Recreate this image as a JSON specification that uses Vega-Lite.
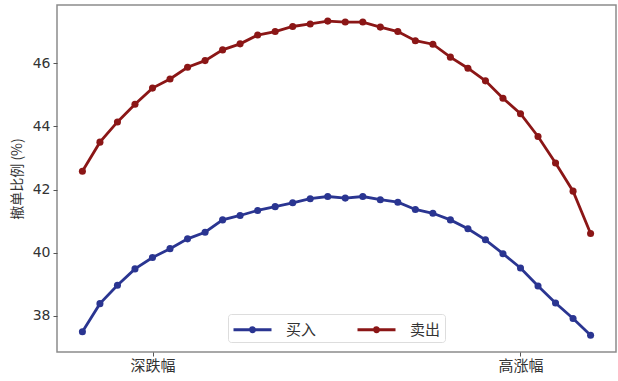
{
  "$schema": "https://vega.github.io/schema/vega-lite/v6.json",
  "width": 559,
  "height": 347,
  "autosize": "none",
  "padding": {"left": 57, "top": 5, "right": 2, "bottom": 29},
  "background": "white",
  "config": {
    "view": {"stroke": "#8c8c8c", "strokeWidth": 1.5},
    "axis": {"grid": false, "domain": false, "tickColor": "#555", "labelColor": "#333", "titleColor": "#333"}
  },
  "data": {
    "values": [
      {"i": 0, "s": "买入", "v": 37.50}, {"i": 1, "s": "买入", "v": 38.39}, {"i": 2, "s": "买入", "v": 38.97},
      {"i": 3, "s": "买入", "v": 39.49}, {"i": 4, "s": "买入", "v": 39.85}, {"i": 5, "s": "买入", "v": 40.13},
      {"i": 6, "s": "买入", "v": 40.44}, {"i": 7, "s": "买入", "v": 40.65}, {"i": 8, "s": "买入", "v": 41.04},
      {"i": 9, "s": "买入", "v": 41.18}, {"i": 10, "s": "买入", "v": 41.34}, {"i": 11, "s": "买入", "v": 41.46},
      {"i": 12, "s": "买入", "v": 41.58}, {"i": 13, "s": "买入", "v": 41.71}, {"i": 14, "s": "买入", "v": 41.78},
      {"i": 15, "s": "买入", "v": 41.73}, {"i": 16, "s": "买入", "v": 41.78}, {"i": 17, "s": "买入", "v": 41.68},
      {"i": 18, "s": "买入", "v": 41.60}, {"i": 19, "s": "买入", "v": 41.37}, {"i": 20, "s": "买入", "v": 41.25},
      {"i": 21, "s": "买入", "v": 41.04}, {"i": 22, "s": "买入", "v": 40.76}, {"i": 23, "s": "买入", "v": 40.41},
      {"i": 24, "s": "买入", "v": 39.97}, {"i": 25, "s": "买入", "v": 39.52}, {"i": 26, "s": "买入", "v": 38.95},
      {"i": 27, "s": "买入", "v": 38.41}, {"i": 28, "s": "买入", "v": 37.92}, {"i": 29, "s": "买入", "v": 37.39},
      {"i": 0, "s": "卖出", "v": 42.58}, {"i": 1, "s": "卖出", "v": 43.50}, {"i": 2, "s": "卖出", "v": 44.14},
      {"i": 3, "s": "卖出", "v": 44.70}, {"i": 4, "s": "卖出", "v": 45.21}, {"i": 5, "s": "卖出", "v": 45.50},
      {"i": 6, "s": "卖出", "v": 45.87}, {"i": 7, "s": "卖出", "v": 46.08}, {"i": 8, "s": "卖出", "v": 46.42},
      {"i": 9, "s": "卖出", "v": 46.61}, {"i": 10, "s": "卖出", "v": 46.89}, {"i": 11, "s": "卖出", "v": 47.00},
      {"i": 12, "s": "卖出", "v": 47.16}, {"i": 13, "s": "卖出", "v": 47.24}, {"i": 14, "s": "卖出", "v": 47.33},
      {"i": 15, "s": "卖出", "v": 47.30}, {"i": 16, "s": "卖出", "v": 47.30}, {"i": 17, "s": "卖出", "v": 47.14},
      {"i": 18, "s": "卖出", "v": 47.00}, {"i": 19, "s": "卖出", "v": 46.71}, {"i": 20, "s": "卖出", "v": 46.60},
      {"i": 21, "s": "卖出", "v": 46.19}, {"i": 22, "s": "卖出", "v": 45.84}, {"i": 23, "s": "卖出", "v": 45.44},
      {"i": 24, "s": "卖出", "v": 44.89}, {"i": 25, "s": "卖出", "v": 44.40}, {"i": 26, "s": "卖出", "v": 43.68},
      {"i": 27, "s": "卖出", "v": 42.84}, {"i": 28, "s": "卖出", "v": 41.95}, {"i": 29, "s": "卖出", "v": 40.61}
    ]
  },
  "mark": {"type": "line", "strokeWidth": 2.8, "point": {"filled": true, "size": 50, "opacity": 1}},
  "encoding": {
    "x": {
      "field": "i", "type": "quantitative",
      "scale": {"domain": [-1.45, 30.45], "nice": false, "zero": false},
      "axis": {
        "values": [4, 25], "title": null, "tickSize": 4,
        "labelExpr": "datum.value == 4 ? '深跌幅' : '高涨幅'",
        "labelFont": "Noto Sans CJK SC", "labelFontSize": 15, "labelPadding": 2
      }
    },
    "y": {
      "field": "v", "type": "quantitative",
      "scale": {"domain": [36.86, 47.84], "nice": false, "zero": false},
      "axis": {
        "values": [38, 40, 42, 44, 46], "tickSize": 4, "labelFont": "DejaVu Sans", "labelFontSize": 14, "labelPadding": 3,
        "title": "撤单比例 (%)", "titleFont": "Noto Sans CJK SC", "titleFontSize": 14, "titleFontWeight": "normal", "titlePadding": 8
      }
    },
    "color": {
      "field": "s", "type": "nominal",
      "scale": {"domain": ["买入", "卖出"], "range": ["#2a3591", "#8b1616"]},
      "legend": {
        "title": null, "orient": "none", "direction": "horizontal", "columns": 2,
        "legendX": 171, "legendY": 309,
        "symbolType": "M-1,0L2.8,0M0.7,0A0.2,0.2 0 1,0 1.1,0A0.2,0.2 0 1,0 0.7,0",
        "symbolSize": 400, "symbolStrokeWidth": 2.8,
        "labelFont": "Noto Sans CJK SC", "labelFontSize": 15, "labelColor": "#333", "labelOffset": 31,
        "columnPadding": 34, "padding": 4,
        "strokeColor": "#dddddd", "fillColor": "white", "cornerRadius": 3
      }
    }
  }
}
